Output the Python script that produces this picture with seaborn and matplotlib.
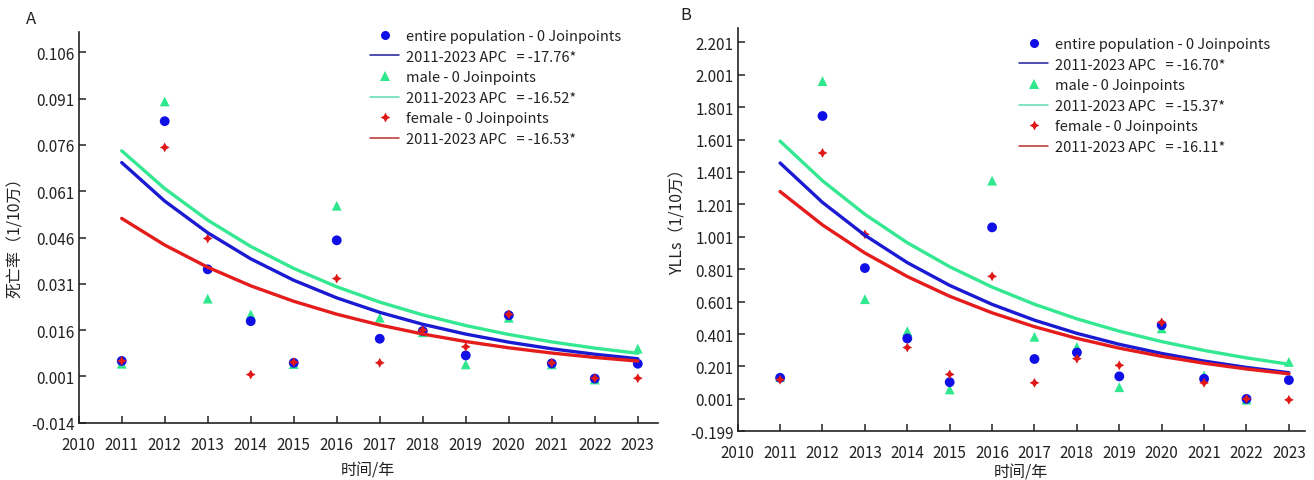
import numpy as np
import pandas as pd
import matplotlib
matplotlib.use("Agg")
import matplotlib.pyplot as plt
from matplotlib.lines import Line2D
import seaborn as sns

# ---- data -------------------------------------------------------------
years = list(range(2011, 2024))
groups = ["entire population", "male", "female"]

# Panel A: mortality rate (1/10万)
rate_total = [0.0060, 0.0837, 0.0357, 0.0189, 0.0054, 0.0451, 0.0132,
              0.0157, 0.0078, 0.0208, 0.0052, 0.0003, 0.0051]
rate_male = [0.0051, 0.0901, 0.0262, 0.0211, 0.0050, 0.0563, 0.0200,
             0.0153, 0.0049, 0.0200, 0.0049, 0.0000, 0.0100]
rate_female = [0.0060, 0.0752, 0.0457, 0.0016, 0.0056, 0.0327, 0.0054,
               0.0160, 0.0106, 0.0211, 0.0054, 0.0004, 0.0004]
rate_fit_start = [0.0703, 0.0741, 0.0522]      # fitted value in 2011
rate_apc = [-17.76, -16.52, -16.53]

# Panel B: YLLs (1/10万)
yll_total = [0.131, 1.746, 0.808, 0.374, 0.104, 1.059, 0.247,
             0.287, 0.140, 0.456, 0.125, 0.001, 0.117]
yll_male = [0.135, 1.961, 0.616, 0.419, 0.059, 1.347, 0.384,
            0.322, 0.073, 0.436, 0.146, -0.004, 0.229]
yll_female = [0.119, 1.518, 1.016, 0.318, 0.152, 0.757, 0.100,
              0.249, 0.208, 0.473, 0.100, 0.001, -0.005]
yll_fit_start = [1.456, 1.591, 1.280]
yll_apc = [-16.70, -15.37, -16.11]

rate_ticks = [-0.014, 0.001, 0.016, 0.031, 0.046, 0.061, 0.076, 0.091, 0.106]
yll_ticks = [-0.199, 0.001, 0.201, 0.401, 0.601, 0.801, 1.001, 1.201,
             1.401, 1.601, 1.801, 2.001, 2.201]
x_ticks = list(range(2010, 2024))

# ---- style ------------------------------------------------------------
sns.set_theme(style="ticks")
plt.rcParams["font.family"] = ["Noto Sans CJK SC", "DejaVu Sans"]
plt.rcParams["axes.unicode_minus"] = False

point_colors = {"entire population": "#1010e6", "male": "#2fe88e", "female": "#e01818"}
line_colors = {"entire population": "#1a1ad2", "male": "#34e891", "female": "#e41c1c"}
legend_line_colors = {"entire population": "#1c1c9a", "male": "#5fdcb0", "female": "#b83030"}
markers = {"entire population": "o", "male": "^", "female": (4, 1, 0)}
marker_sizes = {"entire population": 6.5, "male": 6.5, "female": 7.0}
ink = "#222222"


def build_frames(total, male, female, starts, apcs):
    obs = pd.DataFrame({
        "year": years * 3,
        "value": total + male + female,
        "group": [g for g in groups for _ in years],
    })
    # joinpoint fit with no joinpoints: constant annual percent change
    fit_rows = []
    for g, s, apc in zip(groups, starts, apcs):
        for y in years:
            fit_rows.append({"year": y, "group": g,
                             "fit": s * (1 + apc / 100.0) ** (y - 2011)})
    return obs, pd.DataFrame(fit_rows)


def draw_panel(ax, obs, fit, apcs, ticks, ylim, xlim, ylabel, ylab_xy, xlab_y,
               legend_anchor):
    # points: male underneath, then total, then female on top
    order = ["male", "entire population", "female"]
    obs_sorted = pd.concat([obs[obs["group"] == g] for g in order])
    sns.scatterplot(data=obs_sorted, x="year", y="value", hue="group",
                    style="group", markers=markers, palette=point_colors,
                    s=50, linewidth=0, legend=False, ax=ax, zorder=2)
    sns.lineplot(data=fit, x="year", y="fit", hue="group",
                 hue_order=groups, palette=line_colors, linewidth=2.4,
                 legend=False, ax=ax, zorder=3)

    ax.set_xlim(*xlim)
    ax.set_ylim(*ylim)
    ax.set_xticks(x_ticks)
    ax.set_xticklabels([str(t) for t in x_ticks])
    ax.set_yticks(ticks)
    ax.set_yticklabels([f"{t:.3f}" for t in ticks])
    ax.tick_params(direction="in", length=5, width=1.1, colors=ink,
                   labelsize=11, labelcolor=ink)
    ax.tick_params(axis="x", pad=9.5)
    ax.tick_params(axis="y", pad=3)
    sns.despine(ax=ax)
    for sp in ("left", "bottom"):
        ax.spines[sp].set_color(ink)
        ax.spines[sp].set_linewidth(1.2)

    ax.set_xlabel("时间/年", fontsize=11.5, color=ink, va="center")
    ax.xaxis.set_label_coords(0.5, xlab_y)
    ax.set_ylabel(ylabel, fontsize=11.5, color=ink, va="center")
    ax.yaxis.set_label_coords(*ylab_xy)

    handles, labels = [], []
    for g, apc in zip(groups, apcs):
        handles.append(Line2D([], [], linestyle="none", marker=markers[g],
                              markersize=marker_sizes[g], markerfacecolor=point_colors[g],
                              markeredgewidth=0))
        labels.append(f"{g} - 0 Joinpoints")
        handles.append(Line2D([], [], color=legend_line_colors[g], linewidth=1.1))
        labels.append(f"2011-2023 APC   = {apc:.2f}*")
    fig = ax.figure
    leg = ax.legend(handles, labels, loc="upper left",
                    bbox_to_anchor=legend_anchor, bbox_transform=fig.transFigure,
                    frameon=False, fontsize=10.5, handlelength=2.0,
                    handletextpad=0.5, labelspacing=0.45, borderpad=0,
                    borderaxespad=0)
    for t in leg.get_texts():
        t.set_color(ink)


W, H = 1314, 481
fig = plt.figure(figsize=(W / 100, H / 100), dpi=100)


def axes_px(left, right, top, bottom):
    return fig.add_axes([left / W, 1 - bottom / H, (right - left) / W, (bottom - top) / H])


ax_a = axes_px(78.7, 658, 33, 423.7)
ax_b = axes_px(737.7, 1305, 29.3, 432.3)

obs_a, fit_a = build_frames(rate_total, rate_male, rate_female, rate_fit_start, rate_apc)
draw_panel(ax_a, obs_a, fit_a, rate_apc, rate_ticks, (-0.014, 0.1126), (2010, 2023.47),
           "死亡率（1/10万）", (-0.11, 0.485), -0.12, (370 / W, 1 - 30 / H))

obs_b, fit_b = build_frames(yll_total, yll_male, yll_female, yll_fit_start, yll_apc)
draw_panel(ax_b, obs_b, fit_b, yll_apc, yll_ticks, (-0.199, 2.287), (2010, 2023.38),
           "YLLs（1/10万）", (-0.105, 0.532), -0.1, (1019 / W, 1 - 38 / H))

fig.text(31 / W, 1 - 19 / H, "A", fontsize=12, color=ink, ha="center", va="center")
fig.text(686 / W, 1 - 16 / H, "B", fontsize=12, color=ink, ha="center", va="center")

fig.savefig("out.png", dpi=100, facecolor="white")
